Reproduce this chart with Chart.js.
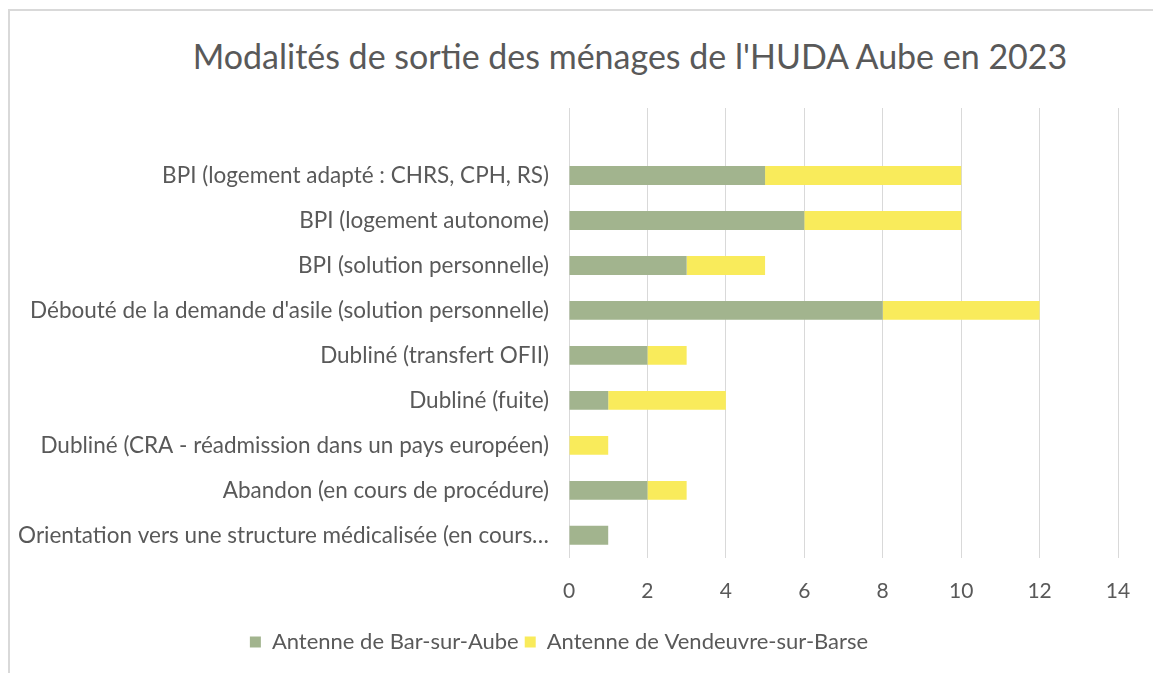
<!DOCTYPE html>
<html>
<head>
<meta charset="utf-8">
<script src="https://cdn.jsdelivr.net/npm/chart.js@4"></script>
<style>
  html, body { margin: 0; padding: 0; background: #fff; }
  #wrap { position: relative; width: 1153px; height: 673px; }
  #frame { position: absolute; left: 8px; top: 9px; right: 0; bottom: 0;
           border-top: 2px solid #d9d9d9; border-left: 2px solid #d9d9d9; }
  #title { position: absolute; left: 0; width: 1260px; top: 35px; text-align: center;
           font-family: Lato, "Open Sans", sans-serif; font-size: 34px; color: #595959; }
  canvas { position: absolute; left: 0; top: 0; }
</style>
</head>
<body>
<div id="wrap">
  <div id="frame"></div>
  <div id="title">Modalités de sortie des ménages de l'HUDA Aube en 2023</div>
  <canvas id="chart" width="1153" height="673"></canvas>
</div>
<script>
// Chart data (top to bottom, first row is the empty slot Excel leaves above the bars)
const categories = [
  "",
  "BPI (logement adapté : CHRS, CPH, RS)",
  "BPI (logement autonome)",
  "BPI (solution personnelle)",
  "Débouté de la demande d'asile (solution personnelle)",
  "Dubliné (transfert OFII)",
  "Dubliné (fuite)",
  "Dubliné (CRA - réadmission dans un pays européen)",
  "Abandon (en cours de procédure)",
  "Orientation vers une structure médicalisée (en cours…"
];
const barSurAube = [null, 5, 6, 3, 8, 2, 1, 0, 2, 1];
const vendeuvre = [null, 5, 4, 2, 4, 1, 3, 1, 1, 0];
const seriesNames = ["Antenne de Bar-sur-Aube", "Antenne de Vendeuvre-sur-Barse"];

const textColor = "#595959";
const font = "Lato, 'Open Sans', sans-serif";

const ctx = document.getElementById("chart").getContext("2d");

new Chart(ctx, {
  type: "bar",
  data: {
    labels: categories,
    datasets: [
      { label: seriesNames[0], data: barSurAube, backgroundColor: "#a2b48e" },
      { label: seriesNames[1], data: vendeuvre, backgroundColor: "#f9eb5b" }
    ]
  },
  options: {
    indexAxis: "y",
    responsive: false,
    animation: false,
    layout: { padding: { top: 108, right: 35, bottom: 10, left: 0 } },
    datasets: { bar: { categoryPercentage: 1, barPercentage: 0.42 } },
    plugins: {
      tooltip: { enabled: false },
      legend: {
        position: "bottom",
        labels: {
          boxWidth: 11, boxHeight: 11, padding: 6,
          color: textColor, font: { family: font, size: 22 }
        }
      }
    },
    scales: {
      x: {
        stacked: true,
        min: 0, max: 14,
        ticks: { stepSize: 2, color: textColor, padding: 21, font: { family: font, size: 21 } },
        grid: { color: "#d9d9d9", drawTicks: false },
        border: { display: false }
      },
      y: {
        stacked: true,
        ticks: { color: textColor, padding: 20, font: { family: font, size: 22.5 }, autoSkip: false },
        grid: { display: false, drawTicks: false },
        border: { display: false },
        afterFit: s => { s.width = 569; }
      }
    }
  }
});
</script>
</body>
</html>
